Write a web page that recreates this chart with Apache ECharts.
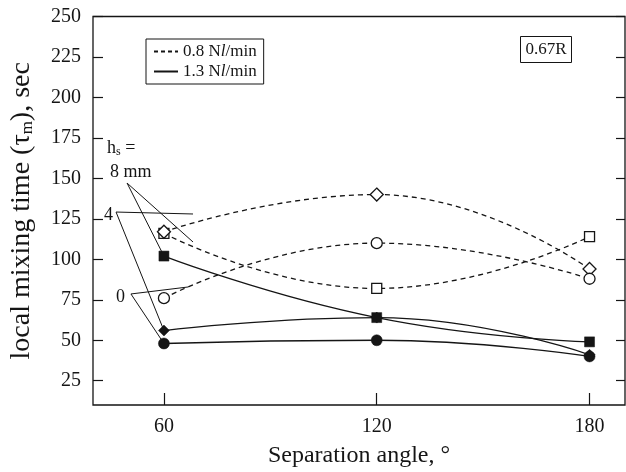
<!DOCTYPE html>
<html>
<head>
<meta charset="utf-8">
<script src="https://cdn.jsdelivr.net/npm/echarts@6/dist/echarts.min.js"></script>
<style>
html,body{margin:0;padding:0;background:#fff;}
#chart{width:626px;height:472px;}
</style>
</head>
<body>
<div id="chart"></div>
<script>
// ---- data ----
const angles = [60, 120, 180];
const low_hs8 = [116, 82, 114];   // 0.8 Nl/min, hs = 8 mm (open square)
const low_hs4 = [117, 140, 94];   // 0.8 Nl/min, hs = 4 mm (open diamond)
const low_hs0 = [76, 110, 88];    // 0.8 Nl/min, hs = 0 (open circle)
const high_hs8 = [102, 64, 49];   // 1.3 Nl/min, hs = 8 mm (filled square)
const high_hs4 = [56, 64, 41];    // 1.3 Nl/min, hs = 4 mm (filled diamond)
const high_hs0 = [48, 50, 40];    // 1.3 Nl/min, hs = 0 (filled circle)
const yTicks = [25, 50, 75, 100, 125, 150, 175, 200, 225, 250];
const xTicks = [60, 120, 180];
// annotation pointer lines (label anchor -> target), in data units
const ptr8 = [[[49.6, 147.1], [68.2, 110.7]], [[49.6, 147.1], [60, 102]]];
const ptr4 = [[[46.5, 129.2], [68.2, 128.0]], [[46.5, 129.2], [60, 56]]];
const ptr0 = [[[50.7, 78.6], [66.8, 82.9]], [[50.7, 78.6], [60, 48]]];

const FONT = '"Liberation Serif", "DejaVu Serif", serif';
const INK = '#151515';
const pairs = arr => angles.map((a, i) => [a, arr[i]]);

function dataSeries(name, arr, symbol, size, open, dashed) {
  return {
    type: 'line', name: name, data: pairs(arr), smooth: true,
    symbol: symbol, symbolSize: size, z: 5,
    lineStyle: { color: INK, width: 1.3, type: dashed ? [5, 4] : 'solid' },
    itemStyle: open ? { color: '#fff', borderColor: INK, borderWidth: 1.3 }
                    : { color: INK, borderColor: INK, borderWidth: 0.5 },
    emphasis: { disabled: true }, silent: true
  };
}
function ptrSeries(segs) {
  return segs.map(s => ({
    type: 'line', data: s, symbol: 'none', z: 3, silent: true,
    lineStyle: { color: INK, width: 1 }
  }));
}

const chart = echarts.init(document.getElementById('chart'), null, { renderer: 'canvas' });
chart.setOption({
  animation: false,
  backgroundColor: '#fff',
  textStyle: { fontFamily: FONT },
  grid: { left: 93, top: 16.5, right: 1, bottom: 67, outerBoundsMode: 'none', containLabel: false,
          show: true, borderColor: INK, borderWidth: 1.3, backgroundColor: 'transparent' },
  legend: {
    data: ['0.8', '1.3'], orient: 'vertical', left: 146, top: 39,
    borderColor: INK, borderWidth: 1, padding: [4, 7, 4, 7], itemGap: 3,
    itemWidth: 24, itemHeight: 12, selectedMode: false,
    itemStyle: { color: 'rgba(0,0,0,0)', borderColor: 'rgba(0,0,0,0)', borderWidth: 0, opacity: 0 },
    textStyle: { fontFamily: FONT, fontSize: 17, color: INK,
      rich: { a: { fontFamily: FONT, fontSize: 17, color: INK }, i: { fontFamily: FONT, fontSize: 17, fontStyle: 'italic', color: INK } } },
    formatter: n => '{a|' + n + ' N}{i|l}{a|/min}'
  },
  xAxis: [{
    type: 'value', min: 40, max: 190,
    name: 'Separation angle, °', nameLocation: 'middle', nameGap: 39,
    nameTextStyle: { fontFamily: FONT, fontSize: 24, color: INK },
    axisLine: { show: false },
    axisTick: { show: true, inside: true, length: 12, customValues: xTicks, lineStyle: { color: INK, width: 1.2 } },
    axisLabel: { customValues: xTicks, fontFamily: FONT, fontSize: 20, color: INK, margin: 12 },
    splitLine: { show: false }
  }],
  yAxis: [{
    type: 'value', min: 10, max: 250,
    name: 'local mixing time (τ{sub|m}), sec', nameLocation: 'middle', nameGap: 57, nameRotate: 90,
    nameTextStyle: { fontFamily: FONT, fontSize: 28, color: INK,
      rich: { sub: { fontFamily: FONT, fontSize: 17, color: INK, padding: [11, 0, 0, 0] } } },
    axisLine: { show: false },
    axisTick: { show: true, inside: true, length: 10, customValues: yTicks, lineStyle: { color: INK, width: 1.2 } },
    axisLabel: { customValues: yTicks, fontFamily: FONT, fontSize: 20, color: INK, margin: 12 },
    splitLine: { show: false }
  }, {
    type: 'value', min: 10, max: 250, position: 'right',
    axisLine: { show: false },
    axisTick: { show: true, inside: true, length: 9, customValues: yTicks, lineStyle: { color: INK, width: 1.2 } },
    axisLabel: { show: false },
    splitLine: { show: false }
  }],
  series: [
    { type: 'line', name: '0.8', data: [], symbol: 'none', lineStyle: { color: INK, width: 1.3, type: [4, 3] }, itemStyle: { color: INK } },
    { type: 'line', name: '1.3', data: [], symbol: 'none', lineStyle: { color: INK, width: 1.3 }, itemStyle: { color: INK } },
    ...ptrSeries(ptr8), ...ptrSeries(ptr4), ...ptrSeries(ptr0),
    dataSeries('low8', low_hs8, 'rect', 10, true, true),
    dataSeries('low4', low_hs4, 'diamond', 13, true, true),
    dataSeries('low0', low_hs0, 'circle', 11, true, true),
    dataSeries('high4', high_hs4, 'diamond', 11, false, false),
    dataSeries('high0', high_hs0, 'circle', 11, false, false),
    dataSeries('high8', high_hs8, 'rect', 10, false, false)
  ],
  graphic: [
    { type: 'text', left: 107, top: 139, style: { rich: { a: { fontFamily: FONT, fontSize: 18, fill: INK }, s: { fontFamily: FONT, fontSize: 12, fill: INK, padding: [8, 0, 0, 0] } }, text: '{a|h}{s|s}{a| =}' } },
    { type: 'text', left: 110, top: 163, style: { text: '8 mm', font: '18px ' + FONT, fill: INK } },
    { type: 'text', left: 104, top: 206, style: { text: '4', font: '18px ' + FONT, fill: INK } },
    { type: 'text', left: 116, top: 288, style: { text: '0', font: '18px ' + FONT, fill: INK } },
    { type: 'rect', shape: { x: 520.5, y: 36.5, width: 51, height: 26 }, style: { fill: '#fff', stroke: INK, lineWidth: 1 } },
    { type: 'text', x: 546, y: 50, style: { text: '0.67R', font: '17px ' + FONT, fill: INK, align: 'center', verticalAlign: 'middle' } }
  ]
});
</script>
</body>
</html>
